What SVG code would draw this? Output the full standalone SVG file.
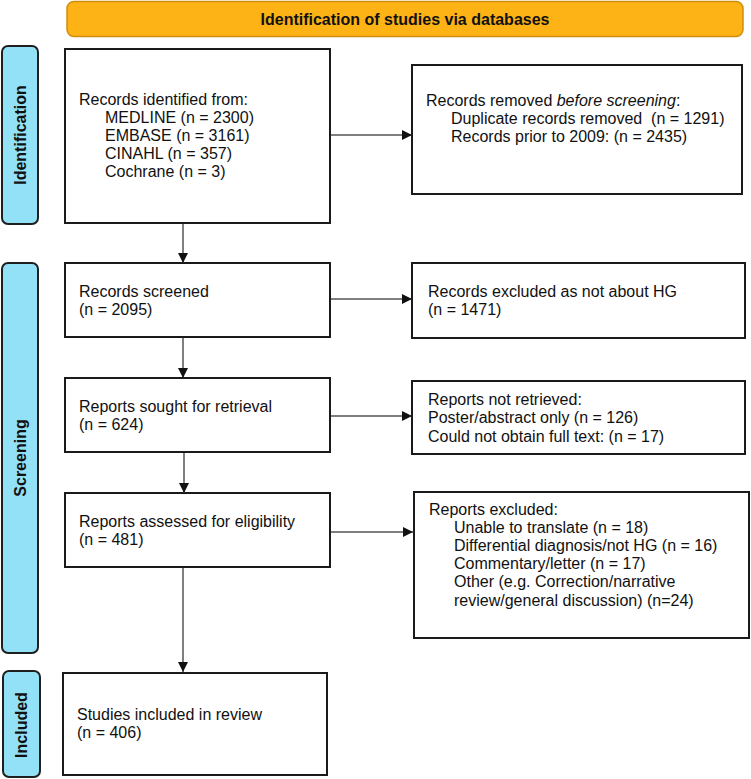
<svg xmlns="http://www.w3.org/2000/svg" width="751" height="779" viewBox="0 0 751 779">
<defs>
<style>
.box{fill:#fff;stroke:#1a1a1a;stroke-width:2}
.side{fill:#93e1f6;stroke:#1f1f1f;stroke-width:2}
.banner{fill:#fdb316;stroke:#d08e0c;stroke-width:1.5}
.t{font-family:"Liberation Sans",Arial,sans-serif;font-size:16px;fill:#111}
.b{font-family:"Liberation Sans",Arial,sans-serif;font-size:16px;font-weight:bold;fill:#111}
.c{stroke:#555;stroke-width:1.5;fill:none}
</style>
<marker id="ah" viewBox="0 0 10 10" refX="10" refY="5" markerWidth="10" markerHeight="10" markerUnits="userSpaceOnUse" orient="auto">
<path d="M0,0 L10,5 L0,10 z" fill="#111"/>
</marker>
</defs>
<rect width="751" height="779" fill="#fff"/>

<g id="banner">
<rect class="banner" x="67" y="1.5" width="676" height="35" rx="7"/>
<text class="b" x="405" y="25" text-anchor="middle">Identification of studies via databases</text>
</g>

<g id="side-identification">
<rect class="side" x="2" y="46" width="36" height="178" rx="6"/>
<text class="b" transform="translate(26,135) rotate(-90)" text-anchor="middle">Identification</text>
</g>
<g id="side-screening">
<rect class="side" x="2" y="263" width="36" height="390" rx="6"/>
<text class="b" transform="translate(26,458) rotate(-90)" text-anchor="middle">Screening</text>
</g>
<g id="side-included">
<rect class="side" x="3" y="671" width="37" height="106" rx="6"/>
<text class="b" transform="translate(27,725) rotate(-90)" text-anchor="middle">Included</text>
</g>

<g id="connectors">
<line class="c" x1="183" y1="223" x2="183" y2="263" marker-end="url(#ah)"/>
<line class="c" x1="183" y1="337" x2="183" y2="378" marker-end="url(#ah)"/>
<line class="c" x1="184" y1="452" x2="184" y2="493" marker-end="url(#ah)"/>
<line class="c" x1="183" y1="567" x2="183" y2="672" marker-end="url(#ah)"/>
<line class="c" x1="330" y1="135" x2="412" y2="135" marker-end="url(#ah)"/>
<line class="c" x1="330" y1="299" x2="412" y2="299" marker-end="url(#ah)"/>
<line class="c" x1="330" y1="416" x2="412" y2="416" marker-end="url(#ah)"/>
<line class="c" x1="330" y1="532" x2="413" y2="532" marker-end="url(#ah)"/>
</g>

<g id="records-identified">
<rect class="box" x="65" y="49" width="265" height="174"/>
<text class="t" x="79" y="105">Records identified from:</text>
<text class="t" x="105" y="123">MEDLINE (n = 2300)</text>
<text class="t" x="105" y="141">EMBASE (n = 3161)</text>
<text class="t" x="105" y="159">CINAHL (n = 357)</text>
<text class="t" x="105" y="177">Cochrane (n = 3)</text>
</g>

<g id="records-removed">
<rect class="box" x="412" y="65" width="330" height="129"/>
<text class="t" x="426" y="106">Records removed <tspan font-style="italic">before screening</tspan>:</text>
<text class="t" x="451" y="124">Duplicate records removed &#160;(n = 1291)</text>
<text class="t" x="451" y="142">Records prior to 2009: (n = 2435)</text>
</g>

<g id="records-screened">
<rect class="box" x="65" y="263" width="265" height="74"/>
<text class="t" x="79" y="297">Records screened</text>
<text class="t" x="79" y="315">(n = 2095)</text>
</g>

<g id="records-excluded">
<rect class="box" x="412" y="263" width="333" height="75"/>
<text class="t" x="428" y="297">Records excluded as not about HG</text>
<text class="t" x="428" y="315">(n = 1471)</text>
</g>

<g id="reports-sought">
<rect class="box" x="65" y="378" width="265" height="74"/>
<text class="t" x="79" y="412">Reports sought for retrieval</text>
<text class="t" x="79" y="430">(n = 624)</text>
</g>

<g id="reports-not-retrieved">
<rect class="box" x="412" y="381" width="333" height="73"/>
<text class="t" x="428" y="405">Reports not retrieved:</text>
<text class="t" x="428" y="423">Poster/abstract only (n = 126)</text>
<text class="t" x="428" y="442">Could not obtain full text: (n = 17)</text>
</g>

<g id="reports-assessed">
<rect class="box" x="65" y="493" width="265" height="74"/>
<text class="t" x="79" y="527">Reports assessed for eligibility</text>
<text class="t" x="79" y="545">(n = 481)</text>
</g>

<g id="reports-excluded">
<rect class="box" x="414" y="492" width="335" height="146"/>
<text class="t" x="429" y="515">Reports excluded:</text>
<text class="t" x="454" y="533">Unable to translate (n = 18)</text>
<text class="t" x="454" y="551">Differential diagnosis/not HG (n = 16)</text>
<text class="t" x="454" y="569">Commentary/letter (n = 17)</text>
<text class="t" x="454" y="587">Other (e.g. Correction/narrative</text>
<text class="t" x="454" y="606">review/general discussion) (n=24)</text>
</g>

<g id="studies-included">
<rect class="box" x="63" y="673" width="264" height="102"/>
<text class="t" x="77" y="720">Studies included in review</text>
<text class="t" x="77" y="738">(n = 406)</text>
</g>
</svg>
